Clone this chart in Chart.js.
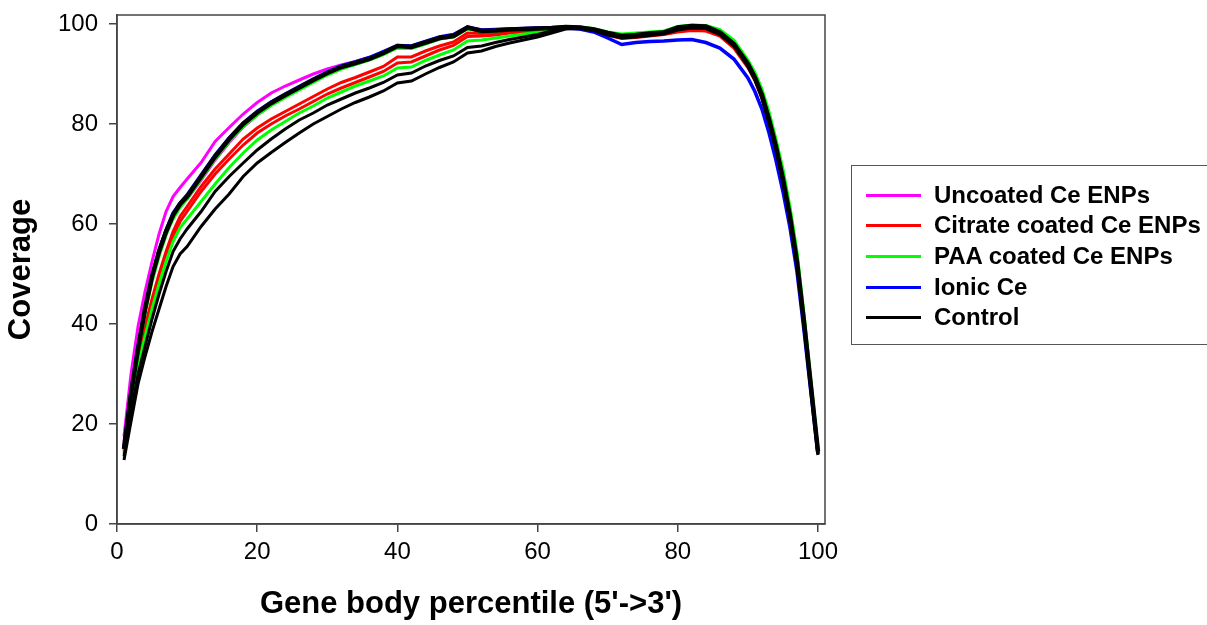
<!DOCTYPE html>
<html>
<head>
<meta charset="utf-8">
<script src="https://cdn.jsdelivr.net/npm/chart.js@4.4.1/dist/chart.umd.min.js"></script>
<style>
  body { margin: 0; background: #fff; overflow: hidden; }
  #wrap { position: relative; width: 1207px; height: 625px; }
  #legend { position: absolute; left: 851px; top: 165px; width: 380px; height: 180px;
            border: 1px solid #555; box-sizing: border-box; }
  .row { position: absolute; left: 14px; height: 30px; display: flex; align-items: center;
         font: bold 24px "Liberation Sans", Arial, sans-serif; color: #000; white-space: nowrap; }
  .row span.ln { display: inline-block; width: 55px; height: 3px; margin-right: 13px; }
</style>
</head>
<body>
<div id="wrap">
  <canvas id="myChart"></canvas>
  <div id="legend"></div>
</div>
<script>
// gene body percentile positions
let pct = [1,2,3,4,5,6,7,8,9,10,
  12,14,16,18,20,22,24,26,28,30,
  32,34,36,38,40,42,44,46,48,50,
  52,54,56,58,60,62,64,66,68,70,
  72,74,76,78,80,82,84,86,88,90,
  91,92,93,94,95,96,97,98,99,100]
let xTicks = [0, 20, 40, 60, 80, 100]
let yTicks = [0, 20, 40, 60, 80, 100]

// coverage, one array per replicate
let ctl1 = [15,26,35,43,49.5,54.5,58.5,61.8,64,65.5,
  69.5,73.5,77,80,82.3,84.2,85.8,87.3,88.8,90.2,
  91.4,92.2,93,94.2,95.6,95.4,96.3,97.2,97.6,99.3,
  98.6,98.7,98.9,99,99.1,99.2,99.4,99.3,98.9,98.2,
  97.6,97.8,98.1,98.3,99.3,99.6,99.5,98.3,96,92,
  89.3,85.8,81,75.5,69,61.5,52.5,40.5,27.5,14.5]
let ctl2 = [13.5,22,30,35.5,41,46,50.5,54.5,57,59,
  62.5,66.5,69.5,72.2,74.8,77,79,80.8,82.2,83.8,
  85,86.2,87.2,88.3,89.8,90.2,91.6,92.7,93.6,95.3,
  95.6,96.3,96.9,97.4,97.9,98.6,99.2,99.2,98.8,98,
  97.4,97.6,97.9,98.2,99,99.4,99.3,98.1,95.8,91.8,
  89,85.5,80.7,75.2,68.7,61.2,52.2,40.2,27.2,14.2]
let ctl3 = [12.8,20.5,28,33.5,38.5,43,47.5,51.5,54,55.5,
  59.5,63,66,69.5,72.2,74.3,76.3,78.2,80,81.5,
  83,84.3,85.4,86.6,88.2,88.6,90,91.3,92.4,94.2,
  94.6,95.5,96.2,96.8,97.4,98.2,99,99.1,98.7,97.8,
  97.2,97.4,97.7,98,98.8,99.2,99.1,97.9,95.6,91.5,
  88.8,85.2,80.4,75,68.5,61,52,40,27,13.8]
let cit1 = [15,24,33,39.5,45,50,54.5,58.5,61.5,63.5,
  67.5,71,74,77,79.2,81,82.5,84,85.5,87,
  88.3,89.3,90.4,91.5,93.4,93.4,94.6,95.6,96.4,98.2,
  98.1,98.2,98.5,98.6,98.8,99,99.3,99.2,98.7,98,
  97.3,97.5,97.8,98,98.6,98.9,98.8,97.8,95.5,91.6,
  89,85.4,80.6,75.2,68.8,61.3,52.3,40.3,27.3,14.6]
let cit2 = [14.5,23.5,32,38.5,44,49,53.5,57.5,60.5,62.5,
  66.5,70,73,75.8,78.2,80,81.6,83,84.5,86,
  87.2,88.3,89.4,90.5,92.2,92.4,93.6,94.8,95.7,97.5,
  97.6,97.8,98.2,98.4,98.6,98.9,99.2,99.1,98.6,97.8,
  97.1,97.3,97.6,97.9,98.4,98.7,98.6,97.6,95.2,91.3,
  88.7,85.1,80.3,74.9,68.5,61,52,40,27,14.3]
let paa1 = [14,23,31.5,37.5,43,48,52.5,56.5,59.3,61,
  64.5,68,71.3,74.2,76.8,78.8,80.5,82.2,83.6,85.2,
  86.4,87.6,88.6,89.6,91.2,91.4,92.7,93.8,94.8,96.6,
  96.8,97.2,97.6,98,98.3,98.7,99.2,99.3,99,98.2,
  97.8,98,98.3,98.5,99.4,99.7,99.6,98.8,96.6,92.6,
  90,86.6,82,76.6,70.4,62.8,53.8,41.5,28.2,15]
let paa2 = [15.2,25.5,34.5,42,48.5,53.5,57.8,61,63.3,65,
  69,73,76.5,79.5,81.8,83.7,85.3,86.8,88.3,89.8,
  91,91.9,92.8,93.9,95.2,95.1,96,97,97.4,99,
  98.5,98.6,98.8,98.9,99,99.2,99.4,99.4,99.1,98.4,
  98,98.2,98.4,98.6,99.5,99.8,99.7,98.9,96.8,92.8,
  90.3,87,82.5,77,71,63.5,54.5,42,28.5,15]
let ion1 = [15.5,26.5,35.5,43.2,49.5,54.8,58.8,62.2,64.2,65.8,
  69.8,73.8,77.2,80.2,82.5,84.4,86,87.5,89,90.4,
  91.6,92.4,93.3,94.5,95.7,95.6,96.5,97.4,97.9,99.4,
  98.8,98.9,99,99.1,99.2,99.1,99.2,99,98.4,97.2,
  95.9,96.3,96.5,96.6,96.8,96.9,96.3,95.2,93,89.2,
  86.5,83,78.3,72.8,66.5,59.3,50.5,38.8,26.2,14]
let unc1 = [17.5,30,39.5,46.5,52.5,58,62.5,65.5,67.3,69,
  72.3,76.5,79.3,82,84.3,86.2,87.6,88.8,90,91,
  91.8,92.5,93.3,94.3,95.5,95.5,96.4,97.3,97.8,99.3,
  98.8,98.9,99,99.1,99.2,99.3,99.5,99.4,99,98.3,
  97.8,97.8,98,98.2,98.8,99,99,98,95.6,91.5,
  89,85.5,80.5,75,68.5,61,52,40,27,14]
let unc2 = [16.5,27,36,43,49,54,58,61.3,63.5,65,
  68.8,72.8,76.3,79.4,81.8,83.8,85.4,87,88.5,89.9,
  91.1,92,92.9,94,95.3,95.2,96.1,97,97.5,99.1,
  98.6,98.7,98.9,99,99.1,99.2,99.5,99.3,98.8,98.1,
  97.5,97.6,97.9,98.1,98.9,99.2,99.1,97.9,95.6,91.6,
  89,85.5,80.6,75.1,68.6,61,52,40,27,14]

let legendLabels = ['Uncoated Ce ENPs', 'Citrate coated Ce ENPs', 'PAA coated Ce ENPs', 'Ionic Ce', 'Control']
let legendColors = ['#ff00ff', '#ff0000', '#00ff00', '#0000ff', '#000000']

// first in the list is painted on top
let series = [
  { data: ctl1, color: '#000000', w: 4.5 },
  { data: ctl2, color: '#000000', w: 3 },
  { data: ctl3, color: '#000000', w: 3 },
  { data: ion1, color: '#0000ff', w: 3.5 },
  { data: paa2, color: '#00ff00', w: 3 },
  { data: paa1, color: '#00ff00', w: 3 },
  { data: cit1, color: '#ff0000', w: 3 },
  { data: cit2, color: '#ff0000', w: 3 },
  { data: unc2, color: '#ff00ff', w: 3 },
  { data: unc1, color: '#ff00ff', w: 3 }
]

let fontFam = '"Liberation Sans", Arial, sans-serif'

let frame = {
  id: 'frame',
  afterDraw(chart) {
    let a = chart.chartArea, c = chart.ctx
    c.save()
    c.strokeStyle = '#444'
    c.lineWidth = 1.5
    c.strokeRect(a.left, a.top, a.right - a.left, a.bottom - a.top)
    c.restore()
  }
}

new Chart(document.getElementById('myChart'), {
  type: 'line',
  data: {
    datasets: series.map(s => ({
      data: pct.map((p, i) => ({ x: p, y: s.data[i] })),
      borderColor: s.color,
      borderWidth: s.w,
      pointRadius: 0,
      tension: 0,
      fill: false
    }))
  },
  options: {
    responsive: true,
    maintainAspectRatio: false,
    animation: false,
    layout: { padding: { left: 0, top: 15, right: 382, bottom: 0 } },
    plugins: { legend: { display: false }, tooltip: { enabled: false } },
    scales: {
      x: {
        type: 'linear', min: 0, max: 101,
        afterBuildTicks: s => { s.ticks = xTicks.map(v => ({ value: v })) },
        afterFit: s => { s.height = 101; s.paddingRight = 0; s.paddingLeft = 0 },
        ticks: { font: { family: fontFam, size: 24 }, color: '#000', padding: 6 },
        grid: { drawOnChartArea: false, tickLength: 8, color: '#444', lineWidth: 1.5 },
        border: { color: '#444', width: 1.5 },
        title: { display: true, text: "Gene body percentile (5'->3')", color: '#000',
                 font: { family: fontFam, size: 31, weight: 'bold' }, padding: { top: 0, bottom: 2 } }
      },
      y: {
        min: 0, max: 101.8,
        afterBuildTicks: s => { s.ticks = yTicks.map(v => ({ value: v })) },
        afterFit: s => { s.width = 117; s.paddingTop = 0; s.paddingBottom = 0 },
        ticks: { font: { family: fontFam, size: 24 }, color: '#000', padding: 11 },
        grid: { drawOnChartArea: false, tickLength: 8, color: '#444', lineWidth: 1.5 },
        border: { color: '#444', width: 1.5 },
        title: { display: true, text: 'Coverage', color: '#000',
                 font: { family: fontFam, size: 31, weight: 'bold' }, padding: { top: 3, bottom: 0 } }
      }
    }
  },
  plugins: [frame]
})

let legend = document.getElementById('legend')
legendLabels.forEach((lab, i) => {
  let row = document.createElement('div')
  row.className = 'row'
  row.style.top = Math.round(13.5 + i * 30.7) + 'px'
  row.innerHTML = '<span class="ln" style="background:' + legendColors[i] + '"></span>' + lab
  legend.appendChild(row)
})
</script>
</body>
</html>
